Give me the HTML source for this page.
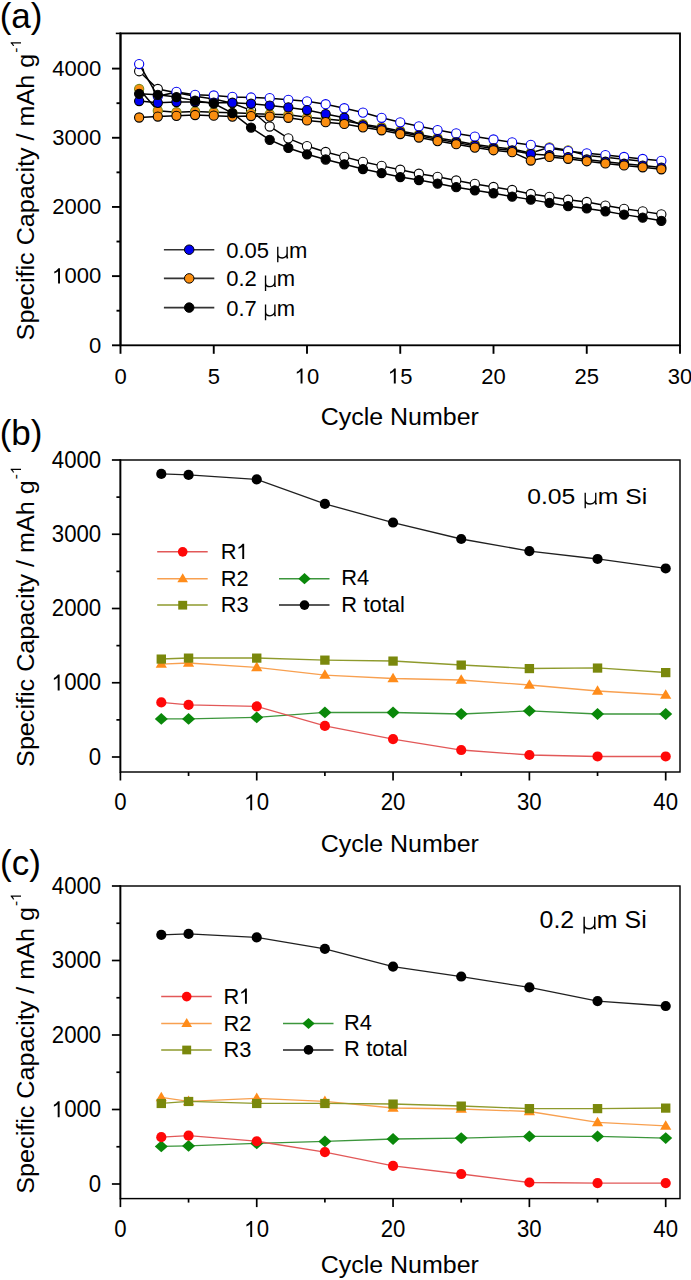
<!DOCTYPE html>
<html><head><meta charset="utf-8"><style>
html,body{margin:0;padding:0;background:#fff;overflow:hidden;}
svg{display:block;}
text{font-family:"Liberation Sans", sans-serif;fill:#000;}
</style></head><body>
<svg width="691" height="1280" viewBox="0 0 691 1280">
<text x="-0.3" y="27.5" font-size="35">(a)</text>
<text x="-0.3" y="445.3" font-size="35">(b)</text>
<text x="0" y="874.5" font-size="35">(c)</text>
<rect x="120.5" y="33.4" width="559.5" height="311.9" fill="none" stroke="#000" stroke-width="1.85"/>
<line x1="120.5" y1="32.7" x2="120.5" y2="346" stroke="#000" stroke-width="1.9"/>
<line x1="112" y1="345.3" x2="120.5" y2="345.3" stroke="#000" stroke-width="1.9"/>
<text x="101.2" y="352.6" font-size="22" text-anchor="end">0</text>
<line x1="116.5" y1="310.71" x2="120.5" y2="310.71" stroke="#000" stroke-width="1.9"/>
<line x1="112" y1="276.12" x2="120.5" y2="276.12" stroke="#000" stroke-width="1.9"/>
<path d="M59.99 283.43L58.06 283.43L58.06 271.17C57.6 271.61 56.99 272.05 56.23 272.49C55.48 272.93 54.84 273.25 54.3 273.47L54.3 271.61C55.27 271.16 56.1 270.61 56.82 269.98C57.54 269.34 58.06 268.73 58.36 268.29L59.99 268.29Z" fill="#000"/>
<text x="64.49" y="283.43" font-size="22">000</text>
<line x1="116.5" y1="241.54" x2="120.5" y2="241.54" stroke="#000" stroke-width="1.9"/>
<line x1="112" y1="206.95" x2="120.5" y2="206.95" stroke="#000" stroke-width="1.9"/>
<text x="101.2" y="214.25" font-size="22" text-anchor="end">2000</text>
<line x1="116.5" y1="172.36" x2="120.5" y2="172.36" stroke="#000" stroke-width="1.9"/>
<line x1="112" y1="137.77" x2="120.5" y2="137.77" stroke="#000" stroke-width="1.9"/>
<text x="101.2" y="145.07" font-size="22" text-anchor="end">3000</text>
<line x1="116.5" y1="103.19" x2="120.5" y2="103.19" stroke="#000" stroke-width="1.9"/>
<line x1="112" y1="68.6" x2="120.5" y2="68.6" stroke="#000" stroke-width="1.9"/>
<text x="101.2" y="75.9" font-size="22" text-anchor="end">4000</text>
<line x1="120.5" y1="345.3" x2="120.5" y2="353.8" stroke="#000" stroke-width="1.9"/>
<text x="120.5" y="383.6" font-size="22" text-anchor="middle">0</text>
<line x1="213.75" y1="345.3" x2="213.75" y2="353.8" stroke="#000" stroke-width="1.9"/>
<text x="213.75" y="383.6" font-size="22" text-anchor="middle">5</text>
<line x1="307" y1="345.3" x2="307" y2="353.8" stroke="#000" stroke-width="1.9"/>
<path d="M302.5 383.6L300.57 383.6L300.57 371.34C300.1 371.78 299.49 372.22 298.74 372.66C297.99 373.1 297.34 373.43 296.81 373.64L296.81 371.78C297.77 371.33 298.61 370.78 299.33 370.15C300.05 369.52 300.57 368.9 300.87 368.46L302.5 368.46Z" fill="#000"/>
<text x="307" y="383.6" font-size="22">0</text>
<line x1="400.25" y1="345.3" x2="400.25" y2="353.8" stroke="#000" stroke-width="1.9"/>
<path d="M395.75 383.6L393.82 383.6L393.82 371.34C393.35 371.78 392.74 372.22 391.99 372.66C391.24 373.1 390.59 373.43 390.06 373.64L390.06 371.78C391.02 371.33 391.86 370.78 392.58 370.15C393.3 369.52 393.82 368.9 394.12 368.46L395.75 368.46Z" fill="#000"/>
<text x="400.25" y="383.6" font-size="22">5</text>
<line x1="493.5" y1="345.3" x2="493.5" y2="353.8" stroke="#000" stroke-width="1.9"/>
<text x="493.5" y="383.6" font-size="22" text-anchor="middle">20</text>
<line x1="586.75" y1="345.3" x2="586.75" y2="353.8" stroke="#000" stroke-width="1.9"/>
<text x="586.75" y="383.6" font-size="22" text-anchor="middle">25</text>
<line x1="680" y1="345.3" x2="680" y2="353.8" stroke="#000" stroke-width="1.9"/>
<text x="680" y="383.6" font-size="22" text-anchor="middle">30</text>
<text x="399.8" y="425.3" font-size="24.5" text-anchor="middle" transform="translate(399.8 0) scale(1.02 1) translate(-399.8 0)">Cycle Number</text>
<g transform="translate(33.5 340.4) rotate(-90) scale(1.027 1)"><text x="0" y="0" font-size="24.5">Specific Capacity / mAh g</text><text x="280.16" y="-12.5" font-size="15">-</text><path d="M290.43 -12.5L289.12 -12.5L289.12 -20.86C288.8 -20.56 288.38 -20.26 287.87 -19.96C287.36 -19.66 286.92 -19.44 286.55 -19.29L286.55 -20.56C287.21 -20.86 287.78 -21.24 288.27 -21.67C288.76 -22.1 289.12 -22.52 289.32 -22.82L290.43 -22.82Z" fill="#000"/></g>
<line x1="115.8" y1="33.4" x2="121" y2="33.4" stroke="#000" stroke-width="1.6"/>
<rect x="120.4" y="460" width="559.6" height="312" fill="none" stroke="#000" stroke-width="1.45"/>
<line x1="120.4" y1="459.3" x2="120.4" y2="772.7" stroke="#000" stroke-width="1.7"/>
<line x1="111.9" y1="757" x2="120.4" y2="757" stroke="#000" stroke-width="1.7"/>
<text x="101.2" y="764.65" font-size="23" text-anchor="end" transform="translate(101.2 0) scale(0.965 1) translate(-101.2 0)">0</text>
<line x1="116.4" y1="719.88" x2="120.4" y2="719.88" stroke="#000" stroke-width="1.7"/>
<line x1="111.9" y1="682.75" x2="120.4" y2="682.75" stroke="#000" stroke-width="1.7"/>
<path d="M59.63 690.4L57.68 690.4L57.68 677.59C57.21 678.05 56.59 678.51 55.83 678.97C55.08 679.43 54.43 679.76 53.88 679.99L53.88 678.05C54.86 677.57 55.7 677 56.43 676.34C57.16 675.68 57.68 675.04 57.98 674.58L59.63 674.58Z" fill="#000"/>
<text x="64.17" y="690.4" font-size="23" transform="translate(64.17 0) scale(0.965 1) translate(-64.17 0)">000</text>
<line x1="116.4" y1="645.62" x2="120.4" y2="645.62" stroke="#000" stroke-width="1.7"/>
<line x1="111.9" y1="608.5" x2="120.4" y2="608.5" stroke="#000" stroke-width="1.7"/>
<text x="101.2" y="616.15" font-size="23" text-anchor="end" transform="translate(101.2 0) scale(0.965 1) translate(-101.2 0)">2000</text>
<line x1="116.4" y1="571.38" x2="120.4" y2="571.38" stroke="#000" stroke-width="1.7"/>
<line x1="111.9" y1="534.25" x2="120.4" y2="534.25" stroke="#000" stroke-width="1.7"/>
<text x="101.2" y="541.9" font-size="23" text-anchor="end" transform="translate(101.2 0) scale(0.965 1) translate(-101.2 0)">3000</text>
<line x1="116.4" y1="497.12" x2="120.4" y2="497.12" stroke="#000" stroke-width="1.7"/>
<line x1="111.9" y1="460" x2="120.4" y2="460" stroke="#000" stroke-width="1.7"/>
<text x="101.2" y="467.65" font-size="23" text-anchor="end" transform="translate(101.2 0) scale(0.965 1) translate(-101.2 0)">4000</text>
<line x1="120.4" y1="772" x2="120.4" y2="780.5" stroke="#000" stroke-width="1.7"/>
<text x="120.4" y="810.3" font-size="23" text-anchor="middle" transform="translate(120.4 0) scale(0.965 1) translate(-120.4 0)">0</text>
<line x1="188.56" y1="772" x2="188.56" y2="776" stroke="#000" stroke-width="1.7"/>
<line x1="256.73" y1="772" x2="256.73" y2="780.5" stroke="#000" stroke-width="1.7"/>
<path d="M252.18 810.3L250.23 810.3L250.23 797.49C249.77 797.95 249.15 798.41 248.39 798.87C247.63 799.33 246.98 799.66 246.44 799.89L246.44 797.95C247.42 797.47 248.26 796.9 248.99 796.24C249.71 795.58 250.23 794.94 250.54 794.48L252.18 794.48Z" fill="#000"/>
<text x="256.73" y="810.3" font-size="23" transform="translate(256.73 0) scale(0.965 1) translate(-256.73 0)">0</text>
<line x1="324.89" y1="772" x2="324.89" y2="776" stroke="#000" stroke-width="1.7"/>
<line x1="393.05" y1="772" x2="393.05" y2="780.5" stroke="#000" stroke-width="1.7"/>
<text x="393.05" y="810.3" font-size="23" text-anchor="middle" transform="translate(393.05 0) scale(0.965 1) translate(-393.05 0)">20</text>
<line x1="461.21" y1="772" x2="461.21" y2="776" stroke="#000" stroke-width="1.7"/>
<line x1="529.38" y1="772" x2="529.38" y2="780.5" stroke="#000" stroke-width="1.7"/>
<text x="529.38" y="810.3" font-size="23" text-anchor="middle" transform="translate(529.38 0) scale(0.965 1) translate(-529.38 0)">30</text>
<line x1="597.54" y1="772" x2="597.54" y2="776" stroke="#000" stroke-width="1.7"/>
<line x1="665.7" y1="772" x2="665.7" y2="780.5" stroke="#000" stroke-width="1.7"/>
<text x="665.7" y="810.3" font-size="23" text-anchor="middle" transform="translate(665.7 0) scale(0.965 1) translate(-665.7 0)">40</text>
<text x="399.8" y="852" font-size="24.5" text-anchor="middle" transform="translate(399.8 0) scale(1.02 1) translate(-399.8 0)">Cycle Number</text>
<g transform="translate(33.5 766.9) rotate(-90) scale(1.027 1)"><text x="0" y="0" font-size="24.5">Specific Capacity / mAh g</text><text x="280.16" y="-12.5" font-size="15">-</text><path d="M290.43 -12.5L289.12 -12.5L289.12 -20.86C288.8 -20.56 288.38 -20.26 287.87 -19.96C287.36 -19.66 286.92 -19.44 286.55 -19.29L286.55 -20.56C287.21 -20.86 287.78 -21.24 288.27 -21.67C288.76 -22.1 289.12 -22.52 289.32 -22.82L290.43 -22.82Z" fill="#000"/></g>
<rect x="120.4" y="886" width="559.6" height="312.6" fill="none" stroke="#000" stroke-width="1.45"/>
<line x1="120.4" y1="885.3" x2="120.4" y2="1199.3" stroke="#000" stroke-width="1.7"/>
<line x1="111.9" y1="1184" x2="120.4" y2="1184" stroke="#000" stroke-width="1.7"/>
<text x="101.2" y="1191.65" font-size="23" text-anchor="end" transform="translate(101.2 0) scale(0.965 1) translate(-101.2 0)">0</text>
<line x1="116.4" y1="1146.75" x2="120.4" y2="1146.75" stroke="#000" stroke-width="1.7"/>
<line x1="111.9" y1="1109.5" x2="120.4" y2="1109.5" stroke="#000" stroke-width="1.7"/>
<path d="M59.63 1117.15L57.68 1117.15L57.68 1104.34C57.21 1104.8 56.59 1105.26 55.83 1105.72C55.08 1106.18 54.43 1106.51 53.88 1106.74L53.88 1104.8C54.86 1104.32 55.7 1103.75 56.43 1103.09C57.16 1102.43 57.68 1101.79 57.98 1101.33L59.63 1101.33Z" fill="#000"/>
<text x="64.17" y="1117.15" font-size="23" transform="translate(64.17 0) scale(0.965 1) translate(-64.17 0)">000</text>
<line x1="116.4" y1="1072.25" x2="120.4" y2="1072.25" stroke="#000" stroke-width="1.7"/>
<line x1="111.9" y1="1035" x2="120.4" y2="1035" stroke="#000" stroke-width="1.7"/>
<text x="101.2" y="1042.65" font-size="23" text-anchor="end" transform="translate(101.2 0) scale(0.965 1) translate(-101.2 0)">2000</text>
<line x1="116.4" y1="997.75" x2="120.4" y2="997.75" stroke="#000" stroke-width="1.7"/>
<line x1="111.9" y1="960.5" x2="120.4" y2="960.5" stroke="#000" stroke-width="1.7"/>
<text x="101.2" y="968.15" font-size="23" text-anchor="end" transform="translate(101.2 0) scale(0.965 1) translate(-101.2 0)">3000</text>
<line x1="116.4" y1="923.25" x2="120.4" y2="923.25" stroke="#000" stroke-width="1.7"/>
<line x1="111.9" y1="886" x2="120.4" y2="886" stroke="#000" stroke-width="1.7"/>
<text x="101.2" y="893.65" font-size="23" text-anchor="end" transform="translate(101.2 0) scale(0.965 1) translate(-101.2 0)">4000</text>
<line x1="120.4" y1="1198.6" x2="120.4" y2="1207.1" stroke="#000" stroke-width="1.7"/>
<text x="120.4" y="1236.9" font-size="23" text-anchor="middle" transform="translate(120.4 0) scale(0.965 1) translate(-120.4 0)">0</text>
<line x1="188.56" y1="1198.6" x2="188.56" y2="1202.6" stroke="#000" stroke-width="1.7"/>
<line x1="256.73" y1="1198.6" x2="256.73" y2="1207.1" stroke="#000" stroke-width="1.7"/>
<path d="M252.18 1236.9L250.23 1236.9L250.23 1224.09C249.77 1224.55 249.15 1225.01 248.39 1225.47C247.63 1225.93 246.98 1226.26 246.44 1226.49L246.44 1224.55C247.42 1224.07 248.26 1223.5 248.99 1222.84C249.71 1222.18 250.23 1221.54 250.54 1221.08L252.18 1221.08Z" fill="#000"/>
<text x="256.73" y="1236.9" font-size="23" transform="translate(256.73 0) scale(0.965 1) translate(-256.73 0)">0</text>
<line x1="324.89" y1="1198.6" x2="324.89" y2="1202.6" stroke="#000" stroke-width="1.7"/>
<line x1="393.05" y1="1198.6" x2="393.05" y2="1207.1" stroke="#000" stroke-width="1.7"/>
<text x="393.05" y="1236.9" font-size="23" text-anchor="middle" transform="translate(393.05 0) scale(0.965 1) translate(-393.05 0)">20</text>
<line x1="461.21" y1="1198.6" x2="461.21" y2="1202.6" stroke="#000" stroke-width="1.7"/>
<line x1="529.38" y1="1198.6" x2="529.38" y2="1207.1" stroke="#000" stroke-width="1.7"/>
<text x="529.38" y="1236.9" font-size="23" text-anchor="middle" transform="translate(529.38 0) scale(0.965 1) translate(-529.38 0)">30</text>
<line x1="597.54" y1="1198.6" x2="597.54" y2="1202.6" stroke="#000" stroke-width="1.7"/>
<line x1="665.7" y1="1198.6" x2="665.7" y2="1207.1" stroke="#000" stroke-width="1.7"/>
<text x="665.7" y="1236.9" font-size="23" text-anchor="middle" transform="translate(665.7 0) scale(0.965 1) translate(-665.7 0)">40</text>
<text x="399.8" y="1273" font-size="24.5" text-anchor="middle" transform="translate(399.8 0) scale(1.02 1) translate(-399.8 0)">Cycle Number</text>
<g transform="translate(33.5 1193.7) rotate(-90) scale(1.027 1)"><text x="0" y="0" font-size="24.5">Specific Capacity / mAh g</text><text x="280.16" y="-12.5" font-size="15">-</text><path d="M290.43 -12.5L289.12 -12.5L289.12 -20.86C288.8 -20.56 288.38 -20.26 287.87 -19.96C287.36 -19.66 286.92 -19.44 286.55 -19.29L286.55 -20.56C287.21 -20.86 287.78 -21.24 288.27 -21.67C288.76 -22.1 289.12 -22.52 289.32 -22.82L290.43 -22.82Z" fill="#000"/></g>
<polyline points="139.15,71.23 157.8,89.01 176.45,92.81 195.1,96.27 213.75,99.04 232.4,103.19 251.05,110.31 269.7,126.5 288.35,138.33 307,146.08 325.65,151.96 344.3,156.87 362.95,161.78 381.6,165.86 400.25,169.73 418.9,173.75 437.55,176.86 456.2,180.46 474.85,183.91 493.5,186.96 512.15,190 530.8,193.95 549.45,196.85 568.1,199.76 586.75,201.97 605.4,205.57 624.05,208.82 642.7,211.38 661.35,214.28" fill="none" stroke="#000" stroke-width="1.5"/>
<circle cx="139.15" cy="71.23" r="4.6" fill="#fff" stroke="#000" stroke-width="1.1"/>
<circle cx="157.8" cy="89.01" r="4.6" fill="#fff" stroke="#000" stroke-width="1.1"/>
<circle cx="176.45" cy="92.81" r="4.6" fill="#fff" stroke="#000" stroke-width="1.1"/>
<circle cx="195.1" cy="96.27" r="4.6" fill="#fff" stroke="#000" stroke-width="1.1"/>
<circle cx="213.75" cy="99.04" r="4.6" fill="#fff" stroke="#000" stroke-width="1.1"/>
<circle cx="232.4" cy="103.19" r="4.6" fill="#fff" stroke="#000" stroke-width="1.1"/>
<circle cx="251.05" cy="110.31" r="4.6" fill="#fff" stroke="#000" stroke-width="1.1"/>
<circle cx="269.7" cy="126.5" r="4.6" fill="#fff" stroke="#000" stroke-width="1.1"/>
<circle cx="288.35" cy="138.33" r="4.6" fill="#fff" stroke="#000" stroke-width="1.1"/>
<circle cx="307" cy="146.08" r="4.6" fill="#fff" stroke="#000" stroke-width="1.1"/>
<circle cx="325.65" cy="151.96" r="4.6" fill="#fff" stroke="#000" stroke-width="1.1"/>
<circle cx="344.3" cy="156.87" r="4.6" fill="#fff" stroke="#000" stroke-width="1.1"/>
<circle cx="362.95" cy="161.78" r="4.6" fill="#fff" stroke="#000" stroke-width="1.1"/>
<circle cx="381.6" cy="165.86" r="4.6" fill="#fff" stroke="#000" stroke-width="1.1"/>
<circle cx="400.25" cy="169.73" r="4.6" fill="#fff" stroke="#000" stroke-width="1.1"/>
<circle cx="418.9" cy="173.75" r="4.6" fill="#fff" stroke="#000" stroke-width="1.1"/>
<circle cx="437.55" cy="176.86" r="4.6" fill="#fff" stroke="#000" stroke-width="1.1"/>
<circle cx="456.2" cy="180.46" r="4.6" fill="#fff" stroke="#000" stroke-width="1.1"/>
<circle cx="474.85" cy="183.91" r="4.6" fill="#fff" stroke="#000" stroke-width="1.1"/>
<circle cx="493.5" cy="186.96" r="4.6" fill="#fff" stroke="#000" stroke-width="1.1"/>
<circle cx="512.15" cy="190" r="4.6" fill="#fff" stroke="#000" stroke-width="1.1"/>
<circle cx="530.8" cy="193.95" r="4.6" fill="#fff" stroke="#000" stroke-width="1.1"/>
<circle cx="549.45" cy="196.85" r="4.6" fill="#fff" stroke="#000" stroke-width="1.1"/>
<circle cx="568.1" cy="199.76" r="4.6" fill="#fff" stroke="#000" stroke-width="1.1"/>
<circle cx="586.75" cy="201.97" r="4.6" fill="#fff" stroke="#000" stroke-width="1.1"/>
<circle cx="605.4" cy="205.57" r="4.6" fill="#fff" stroke="#000" stroke-width="1.1"/>
<circle cx="624.05" cy="208.82" r="4.6" fill="#fff" stroke="#000" stroke-width="1.1"/>
<circle cx="642.7" cy="211.38" r="4.6" fill="#fff" stroke="#000" stroke-width="1.1"/>
<circle cx="661.35" cy="214.28" r="4.6" fill="#fff" stroke="#000" stroke-width="1.1"/>
<polyline points="139.15,89.01 157.8,110.73 176.45,112.18 195.1,111.49 213.75,112.18 232.4,112.87 251.05,113.56 269.7,114.26 288.35,114.67 307,117.3 325.65,119.03 344.3,120.83 362.95,124.22 381.6,127.19 400.25,130.93 418.9,134.39 437.55,137.98 456.2,141.1 474.85,144.48 493.5,147.11 512.15,149.05 530.8,152.99 549.45,147.39 568.1,150.3 586.75,155.41 605.4,157.28 624.05,159.29 642.7,161.16" fill="none" stroke="#000" stroke-width="1.5"/>
<circle cx="139.15" cy="89.01" r="4.6" fill="#fa8e10" stroke="#7c8a1a" stroke-width="1.1"/>
<circle cx="157.8" cy="110.73" r="4.6" fill="#fa8e10" stroke="#7c8a1a" stroke-width="1.1"/>
<circle cx="176.45" cy="112.18" r="4.6" fill="#fa8e10" stroke="#7c8a1a" stroke-width="1.1"/>
<circle cx="195.1" cy="111.49" r="4.6" fill="#fa8e10" stroke="#7c8a1a" stroke-width="1.1"/>
<circle cx="213.75" cy="112.18" r="4.6" fill="#fa8e10" stroke="#7c8a1a" stroke-width="1.1"/>
<circle cx="232.4" cy="112.87" r="4.6" fill="#fa8e10" stroke="#7c8a1a" stroke-width="1.1"/>
<circle cx="251.05" cy="113.56" r="4.6" fill="#fa8e10" stroke="#7c8a1a" stroke-width="1.1"/>
<circle cx="269.7" cy="114.26" r="4.6" fill="#fa8e10" stroke="#7c8a1a" stroke-width="1.1"/>
<circle cx="288.35" cy="114.67" r="4.6" fill="#fa8e10" stroke="#7c8a1a" stroke-width="1.1"/>
<circle cx="307" cy="117.3" r="4.6" fill="#fa8e10" stroke="#7c8a1a" stroke-width="1.1"/>
<circle cx="325.65" cy="119.03" r="4.6" fill="#fa8e10" stroke="#7c8a1a" stroke-width="1.1"/>
<circle cx="344.3" cy="120.83" r="4.6" fill="#fa8e10" stroke="#7c8a1a" stroke-width="1.1"/>
<circle cx="362.95" cy="124.22" r="4.6" fill="#fa8e10" stroke="#7c8a1a" stroke-width="1.1"/>
<circle cx="381.6" cy="127.19" r="4.6" fill="#fa8e10" stroke="#7c8a1a" stroke-width="1.1"/>
<circle cx="400.25" cy="130.93" r="4.6" fill="#fa8e10" stroke="#7c8a1a" stroke-width="1.1"/>
<circle cx="418.9" cy="134.39" r="4.6" fill="#fa8e10" stroke="#7c8a1a" stroke-width="1.1"/>
<circle cx="437.55" cy="137.98" r="4.6" fill="#fa8e10" stroke="#7c8a1a" stroke-width="1.1"/>
<circle cx="456.2" cy="141.1" r="4.6" fill="#fa8e10" stroke="#7c8a1a" stroke-width="1.1"/>
<circle cx="474.85" cy="144.48" r="4.6" fill="#fa8e10" stroke="#7c8a1a" stroke-width="1.1"/>
<circle cx="493.5" cy="147.11" r="4.6" fill="#fa8e10" stroke="#7c8a1a" stroke-width="1.1"/>
<circle cx="512.15" cy="149.05" r="4.6" fill="#fa8e10" stroke="#7c8a1a" stroke-width="1.1"/>
<circle cx="530.8" cy="152.99" r="4.6" fill="#fa8e10" stroke="#7c8a1a" stroke-width="1.1"/>
<circle cx="549.45" cy="147.39" r="4.6" fill="#fa8e10" stroke="#7c8a1a" stroke-width="1.1"/>
<circle cx="568.1" cy="150.3" r="4.6" fill="#fa8e10" stroke="#7c8a1a" stroke-width="1.1"/>
<circle cx="586.75" cy="155.41" r="4.6" fill="#fa8e10" stroke="#7c8a1a" stroke-width="1.1"/>
<circle cx="605.4" cy="157.28" r="4.6" fill="#fa8e10" stroke="#7c8a1a" stroke-width="1.1"/>
<circle cx="624.05" cy="159.29" r="4.6" fill="#fa8e10" stroke="#7c8a1a" stroke-width="1.1"/>
<circle cx="642.7" cy="161.16" r="4.6" fill="#fa8e10" stroke="#7c8a1a" stroke-width="1.1"/>
<polyline points="139.15,64.03 157.8,96.27 176.45,91.91 195.1,94.82 213.75,95.51 232.4,96.89 251.05,97.52 269.7,98.14 288.35,99.8 307,101.32 325.65,104.23 344.3,108.24 362.95,112.6 381.6,117.78 400.25,122.28 418.9,126.29 437.55,130.03 456.2,133.42 474.85,136.53 493.5,139.5 512.15,142.41 530.8,144.9 549.45,148.22 568.1,151.13 586.75,153.34 605.4,155.07 624.05,156.94 642.7,158.94 661.35,160.81" fill="none" stroke="#000" stroke-width="1.5"/>
<circle cx="139.15" cy="64.03" r="4.6" fill="#fff" stroke="#0000f2" stroke-width="1.1"/>
<circle cx="157.8" cy="96.27" r="4.6" fill="#fff" stroke="#0000f2" stroke-width="1.1"/>
<circle cx="176.45" cy="91.91" r="4.6" fill="#fff" stroke="#0000f2" stroke-width="1.1"/>
<circle cx="195.1" cy="94.82" r="4.6" fill="#fff" stroke="#0000f2" stroke-width="1.1"/>
<circle cx="213.75" cy="95.51" r="4.6" fill="#fff" stroke="#0000f2" stroke-width="1.1"/>
<circle cx="232.4" cy="96.89" r="4.6" fill="#fff" stroke="#0000f2" stroke-width="1.1"/>
<circle cx="251.05" cy="97.52" r="4.6" fill="#fff" stroke="#0000f2" stroke-width="1.1"/>
<circle cx="269.7" cy="98.14" r="4.6" fill="#fff" stroke="#0000f2" stroke-width="1.1"/>
<circle cx="288.35" cy="99.8" r="4.6" fill="#fff" stroke="#0000f2" stroke-width="1.1"/>
<circle cx="307" cy="101.32" r="4.6" fill="#fff" stroke="#0000f2" stroke-width="1.1"/>
<circle cx="325.65" cy="104.23" r="4.6" fill="#fff" stroke="#0000f2" stroke-width="1.1"/>
<circle cx="344.3" cy="108.24" r="4.6" fill="#fff" stroke="#0000f2" stroke-width="1.1"/>
<circle cx="362.95" cy="112.6" r="4.6" fill="#fff" stroke="#0000f2" stroke-width="1.1"/>
<circle cx="381.6" cy="117.78" r="4.6" fill="#fff" stroke="#0000f2" stroke-width="1.1"/>
<circle cx="400.25" cy="122.28" r="4.6" fill="#fff" stroke="#0000f2" stroke-width="1.1"/>
<circle cx="418.9" cy="126.29" r="4.6" fill="#fff" stroke="#0000f2" stroke-width="1.1"/>
<circle cx="437.55" cy="130.03" r="4.6" fill="#fff" stroke="#0000f2" stroke-width="1.1"/>
<circle cx="456.2" cy="133.42" r="4.6" fill="#fff" stroke="#0000f2" stroke-width="1.1"/>
<circle cx="474.85" cy="136.53" r="4.6" fill="#fff" stroke="#0000f2" stroke-width="1.1"/>
<circle cx="493.5" cy="139.5" r="4.6" fill="#fff" stroke="#0000f2" stroke-width="1.1"/>
<circle cx="512.15" cy="142.41" r="4.6" fill="#fff" stroke="#0000f2" stroke-width="1.1"/>
<circle cx="530.8" cy="144.9" r="4.6" fill="#fff" stroke="#0000f2" stroke-width="1.1"/>
<circle cx="549.45" cy="148.22" r="4.6" fill="#fff" stroke="#0000f2" stroke-width="1.1"/>
<circle cx="568.1" cy="151.13" r="4.6" fill="#fff" stroke="#0000f2" stroke-width="1.1"/>
<circle cx="586.75" cy="153.34" r="4.6" fill="#fff" stroke="#0000f2" stroke-width="1.1"/>
<circle cx="605.4" cy="155.07" r="4.6" fill="#fff" stroke="#0000f2" stroke-width="1.1"/>
<circle cx="624.05" cy="156.94" r="4.6" fill="#fff" stroke="#0000f2" stroke-width="1.1"/>
<circle cx="642.7" cy="158.94" r="4.6" fill="#fff" stroke="#0000f2" stroke-width="1.1"/>
<circle cx="661.35" cy="160.81" r="4.6" fill="#fff" stroke="#0000f2" stroke-width="1.1"/>
<polyline points="139.15,101.04 157.8,102.84 176.45,102.01 195.1,102.01 213.75,102.63 232.4,102.7 251.05,103.74 269.7,105.61 288.35,107.41 307,110.04 325.65,114.05 344.3,117.71 362.95,125.32 381.6,128.57 400.25,132.31 418.9,135.77 437.55,139.37 456.2,142.48 474.85,145.87 493.5,148.5 512.15,150.43 530.8,154.03 549.45,155.21 568.1,157.07 586.75,159.5 605.4,161.71 624.05,163.72 642.7,165.58 661.35,167.59" fill="none" stroke="#000" stroke-width="1.5"/>
<circle cx="139.15" cy="101.04" r="4.6" fill="#0000f2" stroke="#000" stroke-width="1.1"/>
<circle cx="157.8" cy="102.84" r="4.6" fill="#0000f2" stroke="#000" stroke-width="1.1"/>
<circle cx="176.45" cy="102.01" r="4.6" fill="#0000f2" stroke="#000" stroke-width="1.1"/>
<circle cx="195.1" cy="102.01" r="4.6" fill="#0000f2" stroke="#000" stroke-width="1.1"/>
<circle cx="213.75" cy="102.63" r="4.6" fill="#0000f2" stroke="#000" stroke-width="1.1"/>
<circle cx="232.4" cy="102.7" r="4.6" fill="#0000f2" stroke="#000" stroke-width="1.1"/>
<circle cx="251.05" cy="103.74" r="4.6" fill="#0000f2" stroke="#000" stroke-width="1.1"/>
<circle cx="269.7" cy="105.61" r="4.6" fill="#0000f2" stroke="#000" stroke-width="1.1"/>
<circle cx="288.35" cy="107.41" r="4.6" fill="#0000f2" stroke="#000" stroke-width="1.1"/>
<circle cx="307" cy="110.04" r="4.6" fill="#0000f2" stroke="#000" stroke-width="1.1"/>
<circle cx="325.65" cy="114.05" r="4.6" fill="#0000f2" stroke="#000" stroke-width="1.1"/>
<circle cx="344.3" cy="117.71" r="4.6" fill="#0000f2" stroke="#000" stroke-width="1.1"/>
<circle cx="362.95" cy="125.32" r="4.6" fill="#0000f2" stroke="#000" stroke-width="1.1"/>
<circle cx="381.6" cy="128.57" r="4.6" fill="#0000f2" stroke="#000" stroke-width="1.1"/>
<circle cx="400.25" cy="132.31" r="4.6" fill="#0000f2" stroke="#000" stroke-width="1.1"/>
<circle cx="418.9" cy="135.77" r="4.6" fill="#0000f2" stroke="#000" stroke-width="1.1"/>
<circle cx="437.55" cy="139.37" r="4.6" fill="#0000f2" stroke="#000" stroke-width="1.1"/>
<circle cx="456.2" cy="142.48" r="4.6" fill="#0000f2" stroke="#000" stroke-width="1.1"/>
<circle cx="474.85" cy="145.87" r="4.6" fill="#0000f2" stroke="#000" stroke-width="1.1"/>
<circle cx="493.5" cy="148.5" r="4.6" fill="#0000f2" stroke="#000" stroke-width="1.1"/>
<circle cx="512.15" cy="150.43" r="4.6" fill="#0000f2" stroke="#000" stroke-width="1.1"/>
<circle cx="530.8" cy="154.03" r="4.6" fill="#0000f2" stroke="#000" stroke-width="1.1"/>
<circle cx="549.45" cy="155.21" r="4.6" fill="#0000f2" stroke="#000" stroke-width="1.1"/>
<circle cx="568.1" cy="157.07" r="4.6" fill="#0000f2" stroke="#000" stroke-width="1.1"/>
<circle cx="586.75" cy="159.5" r="4.6" fill="#0000f2" stroke="#000" stroke-width="1.1"/>
<circle cx="605.4" cy="161.71" r="4.6" fill="#0000f2" stroke="#000" stroke-width="1.1"/>
<circle cx="624.05" cy="163.72" r="4.6" fill="#0000f2" stroke="#000" stroke-width="1.1"/>
<circle cx="642.7" cy="165.58" r="4.6" fill="#0000f2" stroke="#000" stroke-width="1.1"/>
<circle cx="661.35" cy="167.59" r="4.6" fill="#0000f2" stroke="#000" stroke-width="1.1"/>
<polyline points="139.15,117.51 157.8,116.54 176.45,115.85 195.1,115.02 213.75,115.64 232.4,116.61 251.05,116.05 269.7,116.61 288.35,117.78 307,120.41 325.65,122.14 344.3,123.94 362.95,127.33 381.6,130.3 400.25,134.04 418.9,137.5 437.55,141.1 456.2,144.21 474.85,147.6 493.5,150.23 512.15,152.16 530.8,160.53 549.45,156.94 568.1,158.8 586.75,161.23 605.4,163.44 624.05,165.44 642.7,167.31 661.35,169.32" fill="none" stroke="#000" stroke-width="1.5"/>
<circle cx="139.15" cy="117.51" r="4.6" fill="#fa8e10" stroke="#000" stroke-width="1.1"/>
<circle cx="157.8" cy="116.54" r="4.6" fill="#fa8e10" stroke="#000" stroke-width="1.1"/>
<circle cx="176.45" cy="115.85" r="4.6" fill="#fa8e10" stroke="#000" stroke-width="1.1"/>
<circle cx="195.1" cy="115.02" r="4.6" fill="#fa8e10" stroke="#000" stroke-width="1.1"/>
<circle cx="213.75" cy="115.64" r="4.6" fill="#fa8e10" stroke="#000" stroke-width="1.1"/>
<circle cx="232.4" cy="116.61" r="4.6" fill="#fa8e10" stroke="#000" stroke-width="1.1"/>
<circle cx="251.05" cy="116.05" r="4.6" fill="#fa8e10" stroke="#000" stroke-width="1.1"/>
<circle cx="269.7" cy="116.61" r="4.6" fill="#fa8e10" stroke="#000" stroke-width="1.1"/>
<circle cx="288.35" cy="117.78" r="4.6" fill="#fa8e10" stroke="#000" stroke-width="1.1"/>
<circle cx="307" cy="120.41" r="4.6" fill="#fa8e10" stroke="#000" stroke-width="1.1"/>
<circle cx="325.65" cy="122.14" r="4.6" fill="#fa8e10" stroke="#000" stroke-width="1.1"/>
<circle cx="344.3" cy="123.94" r="4.6" fill="#fa8e10" stroke="#000" stroke-width="1.1"/>
<circle cx="362.95" cy="127.33" r="4.6" fill="#fa8e10" stroke="#000" stroke-width="1.1"/>
<circle cx="381.6" cy="130.3" r="4.6" fill="#fa8e10" stroke="#000" stroke-width="1.1"/>
<circle cx="400.25" cy="134.04" r="4.6" fill="#fa8e10" stroke="#000" stroke-width="1.1"/>
<circle cx="418.9" cy="137.5" r="4.6" fill="#fa8e10" stroke="#000" stroke-width="1.1"/>
<circle cx="437.55" cy="141.1" r="4.6" fill="#fa8e10" stroke="#000" stroke-width="1.1"/>
<circle cx="456.2" cy="144.21" r="4.6" fill="#fa8e10" stroke="#000" stroke-width="1.1"/>
<circle cx="474.85" cy="147.6" r="4.6" fill="#fa8e10" stroke="#000" stroke-width="1.1"/>
<circle cx="493.5" cy="150.23" r="4.6" fill="#fa8e10" stroke="#000" stroke-width="1.1"/>
<circle cx="512.15" cy="152.16" r="4.6" fill="#fa8e10" stroke="#000" stroke-width="1.1"/>
<circle cx="530.8" cy="160.53" r="4.6" fill="#fa8e10" stroke="#000" stroke-width="1.1"/>
<circle cx="549.45" cy="156.94" r="4.6" fill="#fa8e10" stroke="#000" stroke-width="1.1"/>
<circle cx="568.1" cy="158.8" r="4.6" fill="#fa8e10" stroke="#000" stroke-width="1.1"/>
<circle cx="586.75" cy="161.23" r="4.6" fill="#fa8e10" stroke="#000" stroke-width="1.1"/>
<circle cx="605.4" cy="163.44" r="4.6" fill="#fa8e10" stroke="#000" stroke-width="1.1"/>
<circle cx="624.05" cy="165.44" r="4.6" fill="#fa8e10" stroke="#000" stroke-width="1.1"/>
<circle cx="642.7" cy="167.31" r="4.6" fill="#fa8e10" stroke="#000" stroke-width="1.1"/>
<circle cx="661.35" cy="169.32" r="4.6" fill="#fa8e10" stroke="#000" stroke-width="1.1"/>
<polyline points="139.15,93.78 157.8,94.82 176.45,97.03 195.1,100.63 213.75,103.53 232.4,113.08 251.05,127.61 269.7,139.85 288.35,147.94 307,154.31 325.65,159.5 344.3,164.34 362.95,169.04 381.6,173.05 400.25,177.07 418.9,180.04 437.55,183.57 456.2,187.17 474.85,190.28 493.5,193.25 512.15,196.57 530.8,199.62 549.45,202.87 568.1,206.19 586.75,208.47 605.4,211.24 624.05,214.63 642.7,217.53 661.35,220.78" fill="none" stroke="#000" stroke-width="1.5"/>
<circle cx="139.15" cy="93.78" r="4.6" fill="#000" stroke="#000" stroke-width="1.1"/>
<circle cx="157.8" cy="94.82" r="4.6" fill="#000" stroke="#000" stroke-width="1.1"/>
<circle cx="176.45" cy="97.03" r="4.6" fill="#000" stroke="#000" stroke-width="1.1"/>
<circle cx="195.1" cy="100.63" r="4.6" fill="#000" stroke="#000" stroke-width="1.1"/>
<circle cx="213.75" cy="103.53" r="4.6" fill="#000" stroke="#000" stroke-width="1.1"/>
<circle cx="232.4" cy="113.08" r="4.6" fill="#000" stroke="#000" stroke-width="1.1"/>
<circle cx="251.05" cy="127.61" r="4.6" fill="#000" stroke="#000" stroke-width="1.1"/>
<circle cx="269.7" cy="139.85" r="4.6" fill="#000" stroke="#000" stroke-width="1.1"/>
<circle cx="288.35" cy="147.94" r="4.6" fill="#000" stroke="#000" stroke-width="1.1"/>
<circle cx="307" cy="154.31" r="4.6" fill="#000" stroke="#000" stroke-width="1.1"/>
<circle cx="325.65" cy="159.5" r="4.6" fill="#000" stroke="#000" stroke-width="1.1"/>
<circle cx="344.3" cy="164.34" r="4.6" fill="#000" stroke="#000" stroke-width="1.1"/>
<circle cx="362.95" cy="169.04" r="4.6" fill="#000" stroke="#000" stroke-width="1.1"/>
<circle cx="381.6" cy="173.05" r="4.6" fill="#000" stroke="#000" stroke-width="1.1"/>
<circle cx="400.25" cy="177.07" r="4.6" fill="#000" stroke="#000" stroke-width="1.1"/>
<circle cx="418.9" cy="180.04" r="4.6" fill="#000" stroke="#000" stroke-width="1.1"/>
<circle cx="437.55" cy="183.57" r="4.6" fill="#000" stroke="#000" stroke-width="1.1"/>
<circle cx="456.2" cy="187.17" r="4.6" fill="#000" stroke="#000" stroke-width="1.1"/>
<circle cx="474.85" cy="190.28" r="4.6" fill="#000" stroke="#000" stroke-width="1.1"/>
<circle cx="493.5" cy="193.25" r="4.6" fill="#000" stroke="#000" stroke-width="1.1"/>
<circle cx="512.15" cy="196.57" r="4.6" fill="#000" stroke="#000" stroke-width="1.1"/>
<circle cx="530.8" cy="199.62" r="4.6" fill="#000" stroke="#000" stroke-width="1.1"/>
<circle cx="549.45" cy="202.87" r="4.6" fill="#000" stroke="#000" stroke-width="1.1"/>
<circle cx="568.1" cy="206.19" r="4.6" fill="#000" stroke="#000" stroke-width="1.1"/>
<circle cx="586.75" cy="208.47" r="4.6" fill="#000" stroke="#000" stroke-width="1.1"/>
<circle cx="605.4" cy="211.24" r="4.6" fill="#000" stroke="#000" stroke-width="1.1"/>
<circle cx="624.05" cy="214.63" r="4.6" fill="#000" stroke="#000" stroke-width="1.1"/>
<circle cx="642.7" cy="217.53" r="4.6" fill="#000" stroke="#000" stroke-width="1.1"/>
<circle cx="661.35" cy="220.78" r="4.6" fill="#000" stroke="#000" stroke-width="1.1"/>
<line x1="163.9" y1="249.7" x2="214.3" y2="249.7" stroke="#333" stroke-width="1.6"/>
<circle cx="189.2" cy="249.7" r="4.75" fill="#0000f2" stroke="#000" stroke-width="1"/>
<text x="226.2" y="257.7" font-size="22">0.05 </text>
<path d="M277.77 246.7 L277.77 262.32 M277.77 253.96 C277.77 257.04 279.75 257.96 282.17 257.96 C284.59 257.96 287.12 256.16 287.12 253.3 M287.12 246.7 L287.12 257.7 L288.11 257.7" fill="none" stroke="#000" stroke-width="1.36"/>
<text x="289.02" y="257.7" font-size="22">m</text>
<line x1="163.9" y1="278.4" x2="214.3" y2="278.4" stroke="#333" stroke-width="1.6"/>
<circle cx="189.2" cy="278.4" r="4.75" fill="#fa8e10" stroke="#000" stroke-width="1"/>
<text x="226.2" y="286.4" font-size="22">0.2 </text>
<path d="M265.54 275.4 L265.54 291.02 M265.54 282.66 C265.54 285.74 267.52 286.66 269.94 286.66 C272.36 286.66 274.89 284.86 274.89 282 M274.89 275.4 L274.89 286.4 L275.88 286.4" fill="none" stroke="#000" stroke-width="1.36"/>
<text x="276.78" y="286.4" font-size="22">m</text>
<line x1="163.9" y1="307.6" x2="214.3" y2="307.6" stroke="#333" stroke-width="1.6"/>
<circle cx="189.2" cy="307.6" r="4.75" fill="#000" stroke="#000" stroke-width="1"/>
<text x="226.2" y="315.6" font-size="22">0.7 </text>
<path d="M265.54 304.6 L265.54 320.22 M265.54 311.86 C265.54 314.94 267.52 315.86 269.94 315.86 C272.36 315.86 274.89 314.06 274.89 311.2 M274.89 304.6 L274.89 315.6 L275.88 315.6" fill="none" stroke="#000" stroke-width="1.36"/>
<text x="276.78" y="315.6" font-size="22">m</text>
<polyline points="161.3,664.04 188.56,663 256.73,667.38 324.89,675.03 393.05,678.52 461.21,680 529.38,684.98 597.54,690.99 665.7,695" fill="none" stroke="#f8a050" stroke-width="1.3"/>
<path d="M161.3 658.24 L166.9 667.84 L155.7 667.84Z" fill="#ff8c1a"/>
<path d="M188.56 657.2 L194.16 666.8 L182.96 666.8Z" fill="#ff8c1a"/>
<path d="M256.73 661.58 L262.33 671.18 L251.13 671.18Z" fill="#ff8c1a"/>
<path d="M324.89 669.23 L330.49 678.83 L319.29 678.83Z" fill="#ff8c1a"/>
<path d="M393.05 672.72 L398.65 682.32 L387.45 682.32Z" fill="#ff8c1a"/>
<path d="M461.21 674.2 L466.81 683.8 L455.61 683.8Z" fill="#ff8c1a"/>
<path d="M529.38 679.18 L534.98 688.78 L523.78 688.78Z" fill="#ff8c1a"/>
<path d="M597.54 685.19 L603.14 694.79 L591.94 694.79Z" fill="#ff8c1a"/>
<path d="M665.7 689.2 L671.3 698.8 L660.1 698.8Z" fill="#ff8c1a"/>
<polyline points="161.3,658.99 188.56,658.02 256.73,658.02 324.89,660.03 393.05,660.99 461.21,665 529.38,668.49 597.54,667.97 665.7,672.5" fill="none" stroke="#8e9a2c" stroke-width="1.3"/>
<rect x="156.6" y="654.49" width="9.4" height="9.2" fill="#7a880c"/>
<rect x="183.86" y="653.52" width="9.4" height="9.2" fill="#7a880c"/>
<rect x="252.03" y="653.52" width="9.4" height="9.2" fill="#7a880c"/>
<rect x="320.19" y="655.53" width="9.4" height="9.2" fill="#7a880c"/>
<rect x="388.35" y="656.49" width="9.4" height="9.2" fill="#7a880c"/>
<rect x="456.51" y="660.5" width="9.4" height="9.2" fill="#7a880c"/>
<rect x="524.68" y="663.99" width="9.4" height="9.2" fill="#7a880c"/>
<rect x="592.84" y="663.47" width="9.4" height="9.2" fill="#7a880c"/>
<rect x="661" y="668" width="9.4" height="9.2" fill="#7a880c"/>
<polyline points="161.3,718.91 188.56,718.91 256.73,717.42 324.89,712.45 393.05,712.52 461.21,714.01 529.38,710.97 597.54,714.01 665.7,714.01" fill="none" stroke="#3c963c" stroke-width="1.3"/>
<path d="M161.3 713.01 L167.8 718.91 L161.3 724.81 L154.8 718.91Z" fill="#0a880a"/>
<path d="M188.56 713.01 L195.06 718.91 L188.56 724.81 L182.06 718.91Z" fill="#0a880a"/>
<path d="M256.73 711.52 L263.23 717.42 L256.73 723.32 L250.23 717.42Z" fill="#0a880a"/>
<path d="M324.89 706.55 L331.39 712.45 L324.89 718.35 L318.39 712.45Z" fill="#0a880a"/>
<path d="M393.05 706.62 L399.55 712.52 L393.05 718.42 L386.55 712.52Z" fill="#0a880a"/>
<path d="M461.21 708.11 L467.71 714.01 L461.21 719.91 L454.71 714.01Z" fill="#0a880a"/>
<path d="M529.38 705.07 L535.88 710.97 L529.38 716.87 L522.88 710.97Z" fill="#0a880a"/>
<path d="M597.54 708.11 L604.04 714.01 L597.54 719.91 L591.04 714.01Z" fill="#0a880a"/>
<path d="M665.7 708.11 L672.2 714.01 L665.7 719.91 L659.2 714.01Z" fill="#0a880a"/>
<polyline points="161.3,702.43 188.56,704.95 256.73,706.44 324.89,725.89 393.05,739.03 461.21,750.02 529.38,755 597.54,756.48 665.7,756.48" fill="none" stroke="#e25858" stroke-width="1.3"/>
<circle cx="161.3" cy="702.43" r="5.1" fill="#ff0808"/>
<circle cx="188.56" cy="704.95" r="5.1" fill="#ff0808"/>
<circle cx="256.73" cy="706.44" r="5.1" fill="#ff0808"/>
<circle cx="324.89" cy="725.89" r="5.1" fill="#ff0808"/>
<circle cx="393.05" cy="739.03" r="5.1" fill="#ff0808"/>
<circle cx="461.21" cy="750.02" r="5.1" fill="#ff0808"/>
<circle cx="529.38" cy="755" r="5.1" fill="#ff0808"/>
<circle cx="597.54" cy="756.48" r="5.1" fill="#ff0808"/>
<circle cx="665.7" cy="756.48" r="5.1" fill="#ff0808"/>
<polyline points="161.3,473.88 188.56,474.92 256.73,479.38 324.89,503.88 393.05,522.52 461.21,539 529.38,551.03 597.54,558.98 665.7,568.48" fill="none" stroke="#202020" stroke-width="1.3"/>
<circle cx="161.3" cy="473.88" r="5.1" fill="#000"/>
<circle cx="188.56" cy="474.92" r="5.1" fill="#000"/>
<circle cx="256.73" cy="479.38" r="5.1" fill="#000"/>
<circle cx="324.89" cy="503.88" r="5.1" fill="#000"/>
<circle cx="393.05" cy="522.52" r="5.1" fill="#000"/>
<circle cx="461.21" cy="539" r="5.1" fill="#000"/>
<circle cx="529.38" cy="551.03" r="5.1" fill="#000"/>
<circle cx="597.54" cy="558.98" r="5.1" fill="#000"/>
<circle cx="665.7" cy="568.48" r="5.1" fill="#000"/>
<line x1="157.2" y1="551.8" x2="207.7" y2="551.8" stroke="#e25858" stroke-width="1.5"/>
<circle cx="182.7" cy="551.8" r="4.84" fill="#ff0808"/>
<text x="220.7" y="559" font-size="22.2" transform="translate(220.7 0) scale(0.985 1) translate(-220.7 0)">R</text>
<path d="M244.18 559L242.26 559L242.26 546.63C241.8 547.08 241.19 547.52 240.44 547.97C239.69 548.41 239.05 548.73 238.52 548.95L238.52 547.08C239.48 546.62 240.31 546.07 241.03 545.43C241.74 544.79 242.26 544.17 242.56 543.73L244.18 543.73Z" fill="#000"/>
<line x1="157.2" y1="578.7" x2="207.7" y2="578.7" stroke="#f8a050" stroke-width="1.5"/>
<path d="M182.7 573.19 L188.02 582.31 L177.38 582.31Z" fill="#ff8c1a"/>
<text x="220.7" y="585.9" font-size="22.2" transform="translate(220.7 0) scale(0.985 1) translate(-220.7 0)">R2</text>
<line x1="157.2" y1="605.1" x2="207.7" y2="605.1" stroke="#8e9a2c" stroke-width="1.5"/>
<rect x="178.23" y="600.83" width="8.93" height="8.74" fill="#7a880c"/>
<text x="220.7" y="612.3" font-size="22.2" transform="translate(220.7 0) scale(0.985 1) translate(-220.7 0)">R3</text>
<line x1="279" y1="578.7" x2="329.5" y2="578.7" stroke="#3c963c" stroke-width="1.5"/>
<path d="M304.5 573.1 L310.68 578.7 L304.5 584.31 L298.32 578.7Z" fill="#0a880a"/>
<text x="341.2" y="585.2" font-size="22.2" transform="translate(341.2 0) scale(0.985 1) translate(-341.2 0)">R4</text>
<line x1="279" y1="605.1" x2="329.5" y2="605.1" stroke="#202020" stroke-width="1.5"/>
<circle cx="304.5" cy="605.1" r="4.84" fill="#000"/>
<text x="341.2" y="611.6" font-size="22.2" transform="translate(341.2 0) scale(0.985 1) translate(-341.2 0)" word-spacing="0.5">R total</text>
<text x="527.2" y="503.7" font-size="22" transform="translate(527.2 0) scale(1.125 1) translate(-527.2 0)">0.05 </text>
<path d="M585.22 492.7 L585.22 508.32 M585.22 499.96 C585.22 503.04 587.44 503.96 590.17 503.96 C592.89 503.96 595.74 502.16 595.74 499.3 M595.74 492.7 L595.74 503.7 L596.85 503.7" fill="none" stroke="#000" stroke-width="1.36"/>
<text x="597.87" y="503.7" font-size="22" transform="translate(597.87 0) scale(1.125 1) translate(-597.87 0)">m Si</text>
<polyline points="161.3,1097.43 188.56,1101.38 256.73,1098.4 324.89,1101.38 393.05,1108.01 461.21,1108.98 529.38,1111.51 597.54,1122.46 665.7,1125.96" fill="none" stroke="#f8a050" stroke-width="1.3"/>
<path d="M161.3 1091.63 L166.9 1101.23 L155.7 1101.23Z" fill="#ff8c1a"/>
<path d="M188.56 1095.58 L194.16 1105.18 L182.96 1105.18Z" fill="#ff8c1a"/>
<path d="M256.73 1092.6 L262.33 1102.2 L251.13 1102.2Z" fill="#ff8c1a"/>
<path d="M324.89 1095.58 L330.49 1105.18 L319.29 1105.18Z" fill="#ff8c1a"/>
<path d="M393.05 1102.21 L398.65 1111.81 L387.45 1111.81Z" fill="#ff8c1a"/>
<path d="M461.21 1103.18 L466.81 1112.78 L455.61 1112.78Z" fill="#ff8c1a"/>
<path d="M529.38 1105.71 L534.98 1115.31 L523.78 1115.31Z" fill="#ff8c1a"/>
<path d="M597.54 1116.66 L603.14 1126.26 L591.94 1126.26Z" fill="#ff8c1a"/>
<path d="M665.7 1120.16 L671.3 1129.76 L660.1 1129.76Z" fill="#ff8c1a"/>
<polyline points="161.3,1103.39 188.56,1101.38 256.73,1103.39 324.89,1103.39 393.05,1103.99 461.21,1106 529.38,1108.53 597.54,1108.53 665.7,1108.01" fill="none" stroke="#8e9a2c" stroke-width="1.3"/>
<rect x="156.6" y="1098.89" width="9.4" height="9.2" fill="#7a880c"/>
<rect x="183.86" y="1096.88" width="9.4" height="9.2" fill="#7a880c"/>
<rect x="252.03" y="1098.89" width="9.4" height="9.2" fill="#7a880c"/>
<rect x="320.19" y="1098.89" width="9.4" height="9.2" fill="#7a880c"/>
<rect x="388.35" y="1099.49" width="9.4" height="9.2" fill="#7a880c"/>
<rect x="456.51" y="1101.5" width="9.4" height="9.2" fill="#7a880c"/>
<rect x="524.68" y="1104.03" width="9.4" height="9.2" fill="#7a880c"/>
<rect x="592.84" y="1104.03" width="9.4" height="9.2" fill="#7a880c"/>
<rect x="661" y="1103.51" width="9.4" height="9.2" fill="#7a880c"/>
<polyline points="161.3,1146.38 188.56,1145.93 256.73,1143.4 324.89,1141.39 393.05,1139 461.21,1138.03 529.38,1136.47 597.54,1136.47 665.7,1138.03" fill="none" stroke="#3c963c" stroke-width="1.3"/>
<path d="M161.3 1140.48 L167.8 1146.38 L161.3 1152.28 L154.8 1146.38Z" fill="#0a880a"/>
<path d="M188.56 1140.03 L195.06 1145.93 L188.56 1151.83 L182.06 1145.93Z" fill="#0a880a"/>
<path d="M256.73 1137.5 L263.23 1143.4 L256.73 1149.3 L250.23 1143.4Z" fill="#0a880a"/>
<path d="M324.89 1135.49 L331.39 1141.39 L324.89 1147.29 L318.39 1141.39Z" fill="#0a880a"/>
<path d="M393.05 1133.1 L399.55 1139 L393.05 1144.9 L386.55 1139Z" fill="#0a880a"/>
<path d="M461.21 1132.13 L467.71 1138.03 L461.21 1143.93 L454.71 1138.03Z" fill="#0a880a"/>
<path d="M529.38 1130.57 L535.88 1136.47 L529.38 1142.37 L522.88 1136.47Z" fill="#0a880a"/>
<path d="M597.54 1130.57 L604.04 1136.47 L597.54 1142.37 L591.04 1136.47Z" fill="#0a880a"/>
<path d="M665.7 1132.13 L672.2 1138.03 L665.7 1143.93 L659.2 1138.03Z" fill="#0a880a"/>
<polyline points="161.3,1137.21 188.56,1135.72 256.73,1141.24 324.89,1152.11 393.05,1165.97 461.21,1174.02 529.38,1182.51 597.54,1183.03 665.7,1183.03" fill="none" stroke="#e25858" stroke-width="1.3"/>
<circle cx="161.3" cy="1137.21" r="5.1" fill="#ff0808"/>
<circle cx="188.56" cy="1135.72" r="5.1" fill="#ff0808"/>
<circle cx="256.73" cy="1141.24" r="5.1" fill="#ff0808"/>
<circle cx="324.89" cy="1152.11" r="5.1" fill="#ff0808"/>
<circle cx="393.05" cy="1165.97" r="5.1" fill="#ff0808"/>
<circle cx="461.21" cy="1174.02" r="5.1" fill="#ff0808"/>
<circle cx="529.38" cy="1182.51" r="5.1" fill="#ff0808"/>
<circle cx="597.54" cy="1183.03" r="5.1" fill="#ff0808"/>
<circle cx="665.7" cy="1183.03" r="5.1" fill="#ff0808"/>
<polyline points="161.3,934.87 188.56,933.9 256.73,937.4 324.89,948.8 393.05,966.53 461.21,976.52 529.38,987.47 597.54,1001.03 665.7,1006.02" fill="none" stroke="#202020" stroke-width="1.3"/>
<circle cx="161.3" cy="934.87" r="5.1" fill="#000"/>
<circle cx="188.56" cy="933.9" r="5.1" fill="#000"/>
<circle cx="256.73" cy="937.4" r="5.1" fill="#000"/>
<circle cx="324.89" cy="948.8" r="5.1" fill="#000"/>
<circle cx="393.05" cy="966.53" r="5.1" fill="#000"/>
<circle cx="461.21" cy="976.52" r="5.1" fill="#000"/>
<circle cx="529.38" cy="987.47" r="5.1" fill="#000"/>
<circle cx="597.54" cy="1001.03" r="5.1" fill="#000"/>
<circle cx="665.7" cy="1006.02" r="5.1" fill="#000"/>
<line x1="161.2" y1="996.6" x2="211.7" y2="996.6" stroke="#e25858" stroke-width="1.5"/>
<circle cx="186.7" cy="996.6" r="4.84" fill="#ff0808"/>
<text x="223.4" y="1003.8" font-size="22.2" transform="translate(223.4 0) scale(0.985 1) translate(-223.4 0)">R</text>
<path d="M246.88 1003.8L244.96 1003.8L244.96 991.43C244.5 991.88 243.89 992.32 243.14 992.77C242.39 993.21 241.75 993.53 241.22 993.75L241.22 991.88C242.18 991.42 243.01 990.87 243.73 990.23C244.44 989.59 244.96 988.97 245.26 988.53L246.88 988.53Z" fill="#000"/>
<line x1="161.2" y1="1023.5" x2="211.7" y2="1023.5" stroke="#f8a050" stroke-width="1.5"/>
<path d="M186.7 1017.99 L192.02 1027.11 L181.38 1027.11Z" fill="#ff8c1a"/>
<text x="223.4" y="1030.7" font-size="22.2" transform="translate(223.4 0) scale(0.985 1) translate(-223.4 0)">R2</text>
<line x1="161.2" y1="1049.9" x2="211.7" y2="1049.9" stroke="#8e9a2c" stroke-width="1.5"/>
<rect x="182.23" y="1045.62" width="8.93" height="8.74" fill="#7a880c"/>
<text x="223.4" y="1057.1" font-size="22.2" transform="translate(223.4 0) scale(0.985 1) translate(-223.4 0)">R3</text>
<line x1="283" y1="1023.5" x2="333.5" y2="1023.5" stroke="#3c963c" stroke-width="1.5"/>
<path d="M308.5 1017.89 L314.68 1023.5 L308.5 1029.11 L302.32 1023.5Z" fill="#0a880a"/>
<text x="343.9" y="1030" font-size="22.2" transform="translate(343.9 0) scale(0.985 1) translate(-343.9 0)">R4</text>
<line x1="283" y1="1049.9" x2="333.5" y2="1049.9" stroke="#202020" stroke-width="1.5"/>
<circle cx="308.5" cy="1049.9" r="4.84" fill="#000"/>
<text x="343.9" y="1056.4" font-size="22.2" transform="translate(343.9 0) scale(0.985 1) translate(-343.9 0)" word-spacing="0.5">R total</text>
<text x="539.6" y="928.5" font-size="23.5" transform="translate(539.6 0) scale(1.06 1) translate(-539.6 0)">0.2 </text>
<path d="M584.14 916.75 L584.14 933.43 M584.14 924.5 C584.14 927.79 586.38 928.78 589.12 928.78 C591.86 928.78 594.73 926.86 594.73 923.8 M594.73 916.75 L594.73 928.5 L595.85 928.5" fill="none" stroke="#000" stroke-width="1.46"/>
<text x="596.87" y="928.5" font-size="23.5" transform="translate(596.87 0) scale(1.06 1) translate(-596.87 0)">m Si</text>
</svg></body></html>
